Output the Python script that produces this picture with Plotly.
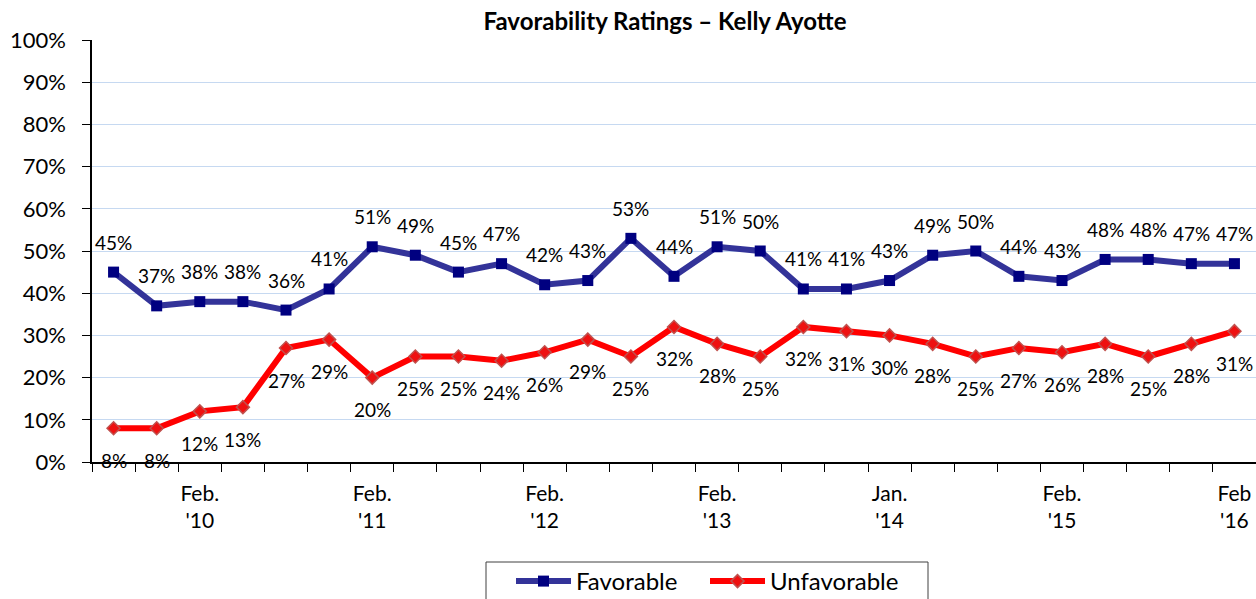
import plotly.graph_objects as go

favorable = [45, 37, 38, 38, 36, 41, 51, 49, 45, 47, 42, 43, 53, 44, 51, 50, 41, 41, 43, 49, 50, 44, 43, 48, 48, 47, 47]
unfavorable = [8, 8, 12, 13, 27, 29, 20, 25, 25, 24, 26, 29, 25, 32, 28, 25, 32, 31, 30, 28, 25, 27, 26, 28, 25, 28, 31]
tick_idx = [2, 6, 10, 14, 18, 22, 26]
tick_labels = ["Feb.<br>'10", "Feb.<br>'11", "Feb.<br>'12", "Feb.<br>'13", "Jan.<br>'14", "Feb.<br>'15", "Feb<br>'16"]
y_ticks = [0, 10, 20, 30, 40, 50, 60, 70, 80, 90, 100]

FONT = "Lato"
x = list(range(len(favorable)))

W, H = 1256, 599
L, T, R, B = 92, 40, 0, 137
PW, PH = W - L - R, H - T - B

fig = go.Figure()
fig.add_trace(go.Scatter(
    x=x, y=favorable, mode="lines+markers", name="Favorable",
    line=dict(color="#333399", width=6),
    marker=dict(symbol="square", size=11, color="#000080", line=dict(width=0)),
))
fig.add_trace(go.Scatter(
    x=x, y=unfavorable, mode="lines+markers", name="Unfavorable",
    line=dict(color="#ff0000", width=6),
    marker=dict(symbol="diamond", size=10, color="#ee1111", line=dict(color="#c0504d", width=1.5)),
))

annots = []
for i, v in enumerate(favorable):
    annots.append(dict(x=i, y=v, text=f"{v}%", showarrow=False, yshift=30,
                       font=dict(family=FONT, size=19, color="#000")))
for i, v in enumerate(unfavorable):
    annots.append(dict(x=i, y=v, text=f"{v}%", showarrow=False, yshift=-32,
                       font=dict(family=FONT, size=19, color="#000")))

# legend frame (reference legend box runs off the bottom edge)
shapes = [dict(type="rect", xref="paper", yref="paper",
               x0=(486 - L) / PW, x1=(928 - L) / PW,
               y0=-(620 - T - PH) / PH, y1=-(562 - T - PH) / PH,
               line=dict(color="#404040", width=1), fillcolor="rgba(0,0,0,0)", layer="above")]

fig.update_layout(
    width=W, height=H,
    margin=dict(l=L, r=R, t=T, b=B, autoexpand=False),
    paper_bgcolor="white", plot_bgcolor="white",
    title=dict(text="<b>Favorability Ratings – Kelly Ayotte</b>", x=665 / W, xanchor="center",
               y=1 - 22 / H, yanchor="middle", font=dict(family=FONT, size=24, color="#000")),
    showlegend=True,
    legend=dict(orientation="h", x=(511 - L) / PW, xanchor="left", y=-(559 - T - PH) / PH, yanchor="top",
                borderwidth=0, bgcolor="rgba(0,0,0,0)", font=dict(family=FONT, size=24, color="#000"),
                itemwidth=55, entrywidth=124),
    annotations=annots,
    shapes=shapes,
    xaxis=dict(range=[-0.5, len(favorable) - 0.5], tickmode="array", tickvals=tick_idx, ticktext=tick_labels,
               ticks="", showgrid=False, zeroline=False, showline=True, linecolor="#000", linewidth=1.5,
               ticklabelstandoff=12,
               tickfont=dict(family=FONT, size=21, color="#000"),
               minor=dict(ticks="outside", tick0=-0.5, dtick=1, ticklen=8, tickcolor="#000", tickwidth=1, showgrid=False)),
    yaxis=dict(range=[0, 100], tickmode="array", tickvals=y_ticks, ticktext=[f"{t}%" for t in y_ticks],
               ticks="outside", ticklen=8, tickcolor="#000", showgrid=True, gridcolor="#c6d9f1", gridwidth=1,
               zeroline=False, showline=True, linecolor="#000", linewidth=1.5, ticklabelstandoff=12,
               tickfont=dict(family=FONT, size=22, color="#000")),
)

fig.write_html("out.html", config={"displayModeBar": False},
               post_script="document.body.style.margin='0';document.body.style.overflow='hidden';")
